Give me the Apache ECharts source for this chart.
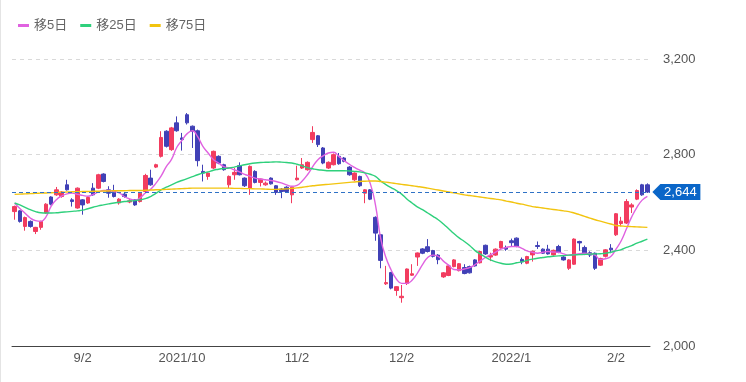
<!DOCTYPE html>
<html><head><meta charset="utf-8">
<script src="https://cdn.jsdelivr.net/npm/echarts/dist/echarts.min.js"></script>
<style>html,body{margin:0;padding:0;background:#fff;overflow:hidden}#c{position:absolute;left:0;top:0;width:746px;height:382px}#edge{position:absolute;left:0;top:0;width:1px;height:382px;background:#e4e4e4}</style>
</head><body><div id="c"></div><div id="edge"></div><script>
const dates=['2021-08-16','2021-08-17','2021-08-18','2021-08-19','2021-08-20','2021-08-23','2021-08-24','2021-08-25','2021-08-26','2021-08-27','2021-08-30','2021-08-31',
'2021-09-01','2021-09-02','2021-09-03','2021-09-06','2021-09-07','2021-09-08','2021-09-09','2021-09-10','2021-09-13','2021-09-14','2021-09-15','2021-09-16','2021-09-17','2021-09-21','2021-09-22','2021-09-24','2021-09-27','2021-09-28','2021-09-29','2021-09-30',
'2021-10-01','2021-10-04','2021-10-05','2021-10-06','2021-10-07','2021-10-08','2021-10-11','2021-10-12','2021-10-13','2021-10-14','2021-10-15','2021-10-18','2021-10-19','2021-10-20','2021-10-21','2021-10-22','2021-10-25','2021-10-26','2021-10-27','2021-10-28','2021-10-29',
'2021-11-01','2021-11-02','2021-11-04','2021-11-05','2021-11-08','2021-11-09','2021-11-10','2021-11-11','2021-11-12','2021-11-15','2021-11-16','2021-11-17','2021-11-18','2021-11-19','2021-11-22','2021-11-24','2021-11-25','2021-11-26','2021-11-29','2021-11-30',
'2021-12-01','2021-12-02','2021-12-03','2021-12-06','2021-12-07','2021-12-08','2021-12-09','2021-12-10','2021-12-13','2021-12-14','2021-12-15','2021-12-16','2021-12-17','2021-12-20','2021-12-21','2021-12-22','2021-12-23','2021-12-24','2021-12-27','2021-12-28','2021-12-29','2021-12-30',
'2022-01-04','2022-01-05','2022-01-06','2022-01-07','2022-01-11','2022-01-12','2022-01-13','2022-01-14','2022-01-17','2022-01-18','2022-01-19','2022-01-20','2022-01-21','2022-01-24','2022-01-25','2022-01-26','2022-01-27','2022-01-28','2022-01-31',
'2022-02-01','2022-02-02','2022-02-03','2022-02-04','2022-02-07','2022-02-08','2022-02-09','2022-02-10'];

const opens=[2562,2565,2500,2521,2479,2496,2556,2623,2632,2625,2674,2611,2577,2611,2598,2660,2660,2719,2653,2649,2598,2635,2602,2611,2604,2646,2702,2748,2793,2898,2821,2933,2870,2967,2919,2900,2730,2709,2744,2793,2758,2674,
2716,2754,2702,2660,2730,2684,2674,2702,2670,2656,2664,2632,2695,2744,2737,2863,2879,2828,2744,2758,2793,2786,2748,2695,2709,2639,2653,2538,2465,2260,2307,2232,2202,2261,2296,2372,2406,2415,2399,2380,
2289,2295,2332,2315,2328,2332,2360,2348,2421,2372,2380,2410,2412,2440,2451,2362,2346,2381,2420,2405,2405,2381,2416,2372,2325,2342,2437,2412,2390,2388,2338,2375,2409,2465,2512,2514,2581,2614,2674,2674];
const closes=[2583,2521,2537,2500,2496,2521,2593,2593,2653,2644,2653,2604,2660,2590,2621,2632,2716,2688,2639,2625,2614,2625,2607,2590,2639,2713,2674,2758,2872,2835,2912,2900,2863,2933,2898,2775,2723,2723,2814,2765,2737,2709,
2726,2716,2670,2751,2684,2698,2681,2678,2642,2646,2646,2664,2702,2758,2768,2893,2842,2765,2768,2800,2762,2772,2716,2723,2670,2653,2614,2472,2358,2265,2242,2248,2208,2322,2302,2389,2388,2395,2375,2361,
2306,2335,2360,2344,2303,2306,2335,2395,2385,2378,2405,2437,2405,2432,2416,2352,2374,2396,2416,2388,2385,2400,2392,2360,2360,2447,2431,2383,2380,2325,2366,2402,2402,2553,2522,2604,2590,2650,2632,2644];
const lows=[2528,2516,2482,2495,2468,2486,2553,2588,2628,2620,2650,2583,2574,2549,2594,2628,2656,2684,2620,2621,2591,2620,2597,2586,2600,2642,2670,2744,2788,2830,2816,2896,2817,2926,2828,2751,2688,2695,2740,2760,2733,2660,
2695,2713,2665,2632,2680,2667,2670,2675,2632,2618,2642,2597,2692,2740,2733,2849,2832,2760,2740,2755,2758,2768,2712,2690,2665,2597,2610,2440,2325,2255,2237,2210,2181,2255,2293,2335,2384,2391,2370,2342,
2285,2292,2329,2312,2300,2303,2332,2345,2381,2355,2377,2407,2398,2418,2413,2342,2342,2353,2406,2385,2382,2378,2388,2357,2318,2339,2398,2380,2372,2318,2335,2370,2388,2460,2500,2510,2556,2610,2628,2640];
const highs=[2587,2568,2541,2525,2498,2524,2597,2626,2665,2648,2695,2618,2663,2614,2625,2681,2720,2722,2668,2674,2618,2644,2614,2614,2642,2720,2737,2762,2898,2902,2916,2960,2891,2974,2922,2905,2758,2726,2817,2797,2762,2713,
2744,2768,2705,2755,2735,2700,2688,2705,2673,2660,2668,2667,2754,2786,2772,2919,2882,2832,2772,2805,2807,2790,2752,2726,2712,2656,2656,2542,2468,2335,2310,2250,2255,2324,2342,2391,2409,2447,2402,2384,
2309,2338,2363,2347,2342,2336,2363,2398,2424,2390,2408,2440,2420,2449,2454,2370,2377,2399,2437,2408,2423,2403,2423,2376,2363,2450,2440,2420,2396,2391,2369,2405,2426,2556,2540,2614,2597,2655,2678,2680];

const ma5=[2597,2575,2555,2535,2524,2521,2540,2585,2612,2627,2636,2639,2634,2630,2626,2634,2643,2650,2650,2646,2640,2624,2615,2610,2620,2640,2655,2680,2710,2750,2780,2830,2860,2888,2900,2875,2835,2807,2780,2765,2750,2745,
2737,2728,2718,2710,2702,2698,2695,2692,2688,2682,2674,2668,2672,2690,2716,2750,2779,2795,2807,2810,2793,2775,2760,2747,2735,2723,2680,2590,2450,2370,2318,2280,2262,2262,2275,2304,2340,2370,2380,2375,
2355,2338,2320,2318,2322,2328,2339,2355,2370,2382,2393,2405,2412,2416,2416,2408,2398,2392,2388,2392,2395,2393,2392,2385,2380,2383,2386,2388,2386,2380,2362,2365,2374,2405,2440,2490,2540,2580,2610,2626];
const ma25=[2598,2590,2580,2570,2562,2557,2556,2556,2557,2559,2561,2563,2565,2568,2574,2580,2586,2590,2594,2598,2601,2604,2606,2608,2611,2616,2625,2638,2653,2664,2674,2684,2692,2700,2708,2716,2723,2728,2735,2739,2742,2744,
2748,2753,2758,2762,2765,2767,2768,2769,2770,2769,2767,2765,2760,2753,2746,2741,2737,2735,2733,2733,2733,2733,2732,2730,2728,2724,2718,2709,2690,2675,2662,2650,2635,2615,2598,2582,2570,2556,2542,2528,
2510,2490,2470,2452,2437,2420,2400,2385,2372,2360,2352,2346,2342,2343,2348,2352,2358,2363,2367,2370,2373,2375,2377,2378,2380,2381,2382,2383,2384,2385,2386,2388,2392,2398,2403,2412,2420,2430,2438,2447];
const ma75=[2634,2635,2636,2637,2638,2639,2640,2641,2642,2643,2644,2645,2645,2646,2646,2647,2647,2648,2648,2649,2649,2649,2650,2650,2650,2651,2652,2653,2654,2655,2656,2657,2658,2659,2660,2660,2660,2660,2660,2660,2660,2660,
2659,2659,2658,2658,2657,2657,2656,2655,2655,2656,2657,2659,2661,2664,2667,2670,2672,2674,2676,2678,2680,2682,2684,2686,2688,2689,2690,2690,2688,2685,2682,2679,2676,2673,2670,2667,2664,2660,2656,2652,
2648,2644,2640,2636,2632,2629,2626,2623,2620,2617,2614,2611,2606,2602,2597,2593,2588,2583,2580,2577,2574,2571,2568,2565,2562,2556,2549,2542,2535,2528,2522,2516,2510,2504,2502,2500,2499,2498,2497,2496];

const tickLabels={'2021-09-02':'9/2','2021-10-01':'2021/10','2021-11-02':'11/2','2021-12-02':'12/2','2022-01-04':'2022/1','2022-02-02':'2/2'};
const seriesNames=['移5日','移25日','移75日'];
const lastClose=closes[closes.length-1];

const UP='#f23c5f', DOWN='#4141b6';
const FONT="'Liberation Sans','Noto Sans CJK JP',sans-serif";
const fmt=v=>Number(v).toLocaleString('en-US');

const chart=echarts.init(document.getElementById('c'),null,{renderer:'canvas'});
chart.setOption({
  animation:false,
  legend:{data:seriesNames,left:13,top:14,icon:'rect',itemWidth:11,itemHeight:3,itemGap:13,
    textStyle:{color:'#666',fontSize:13,fontFamily:FONT}},
  grid:{left:12,right:96,top:59,bottom:36},
  xAxis:{type:'category',data:dates,boundaryGap:true,
    axisLine:{lineStyle:{color:'#444',width:1}},axisTick:{show:false},splitLine:{show:false},
    axisLabel:{interval:(i,v)=>v in tickLabels,formatter:v=>tickLabels[v]||'',color:'#555',fontSize:13,margin:6,fontFamily:FONT}},
  yAxis:{type:'value',position:'right',min:2000,max:3200,interval:400,scale:true,
    axisLine:{show:false},axisTick:{show:false},
    axisLabel:{margin:13,color:'#555',fontSize:13,fontFamily:FONT,formatter:fmt},
    splitLine:{lineStyle:{color:'#d9d9d9',type:[4,4]}}},
  series:[
    {type:'candlestick',name:'株価',barWidth:4,
      data:opens.map((o,i)=>[o,closes[i],lows[i],highs[i]]),
      itemStyle:{color:UP,color0:DOWN,borderColor:UP,borderColor0:DOWN,borderWidth:1},
      emphasis:{disabled:true},
      markLine:{silent:true,symbol:['none','none'],label:{show:false},
        lineStyle:{color:'#2f72c6',type:[4,3],width:1},data:[{yAxis:lastClose}]},
      markPoint:{silent:true,symbol:'path://M0,8 L8,0 L48,0 L48,16 L8,16 Z',symbolSize:[48,16],symbolOffset:[29,0],
        itemStyle:{color:'#0a66c8'},
        label:{show:true,color:'#fff',fontSize:13,fontFamily:FONT,offset:[4,0],formatter:p=>fmt(p.value)},
        data:[{coord:[dates[dates.length-1],lastClose],value:lastClose}]}
    },
    {type:'line',name:seriesNames[0],data:ma5,showSymbol:false,smooth:true,z:3,lineStyle:{width:1.4,color:'#e062e0'},itemStyle:{color:'#e062e0'},emphasis:{disabled:true}},
    {type:'line',name:seriesNames[1],data:ma25,showSymbol:false,smooth:true,z:3,lineStyle:{width:1.4,color:'#2fd07c'},itemStyle:{color:'#2fd07c'},emphasis:{disabled:true}},
    {type:'line',name:seriesNames[2],data:ma75,showSymbol:false,smooth:true,z:3,lineStyle:{width:1.4,color:'#f2c40f'},itemStyle:{color:'#f2c40f'},emphasis:{disabled:true}}
  ]
});
</script></body></html>
